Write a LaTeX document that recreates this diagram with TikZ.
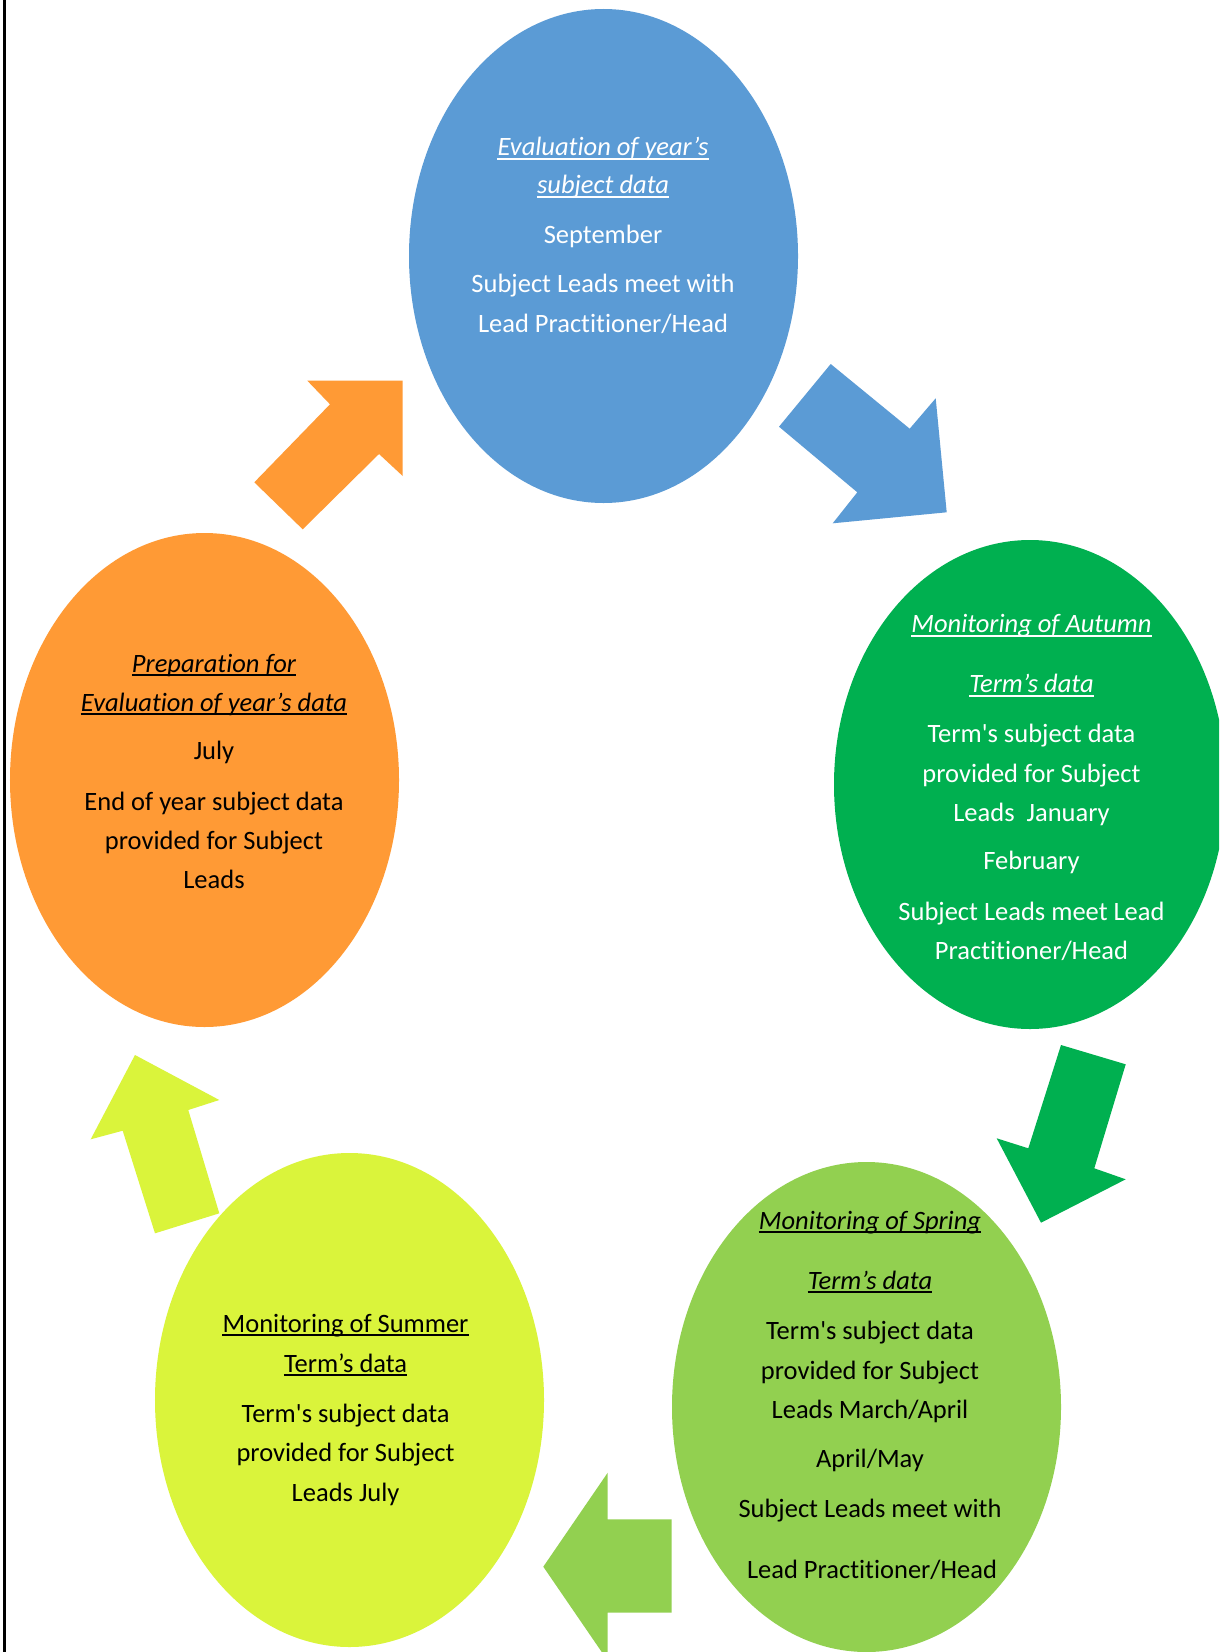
\documentclass[tikz,border=0pt]{standalone}
\usepackage{fontspec}
\setmainfont{Carlito}[Ligatures={TeX,NoCommon}]
\newfontfamily\rawcarlito{Carlito}[Ligatures=NoCommon]
\usetikzlibrary{shapes.geometric}
\definecolor{evalblue}{HTML}{5B9BD5}
\definecolor{autumngreen}{HTML}{00B050}
\definecolor{springgreen}{HTML}{92D050}
\definecolor{summeryellow}{HTML}{DAF43B}
\definecolor{preporange}{HTML}{FF9A35}
\newcommand\straightq{{\rawcarlito'}}
\begin{document}
\begin{tikzpicture}[x=1bp,y=-1bp,
  stage/.style={ellipse, inner sep=0pt, minimum width=389bp, minimum height=494bp},
  txt/.style={inner sep=0pt, anchor=base, font=\fontsize{26.6}{32}\selectfont},
  ttl/.style={txt, font=\fontsize{26.6}{32}\selectfont\itshape},
  ttlup/.style={txt},
  ul/.style={line width=1.9bp},
]
\useasboundingbox (0,0) rectangle (1219,1652);
\clip (0,0) rectangle (1219,1652);
\fill[white] (0,0) rectangle (1219,1652);

% page edge rule
\fill[black] (3,0) rectangle (5.6,1652);

% stage ellipses
\node[stage, fill=evalblue] (eval) at (603.5,256) {};
\node[stage, fill=autumngreen, minimum width=392bp, minimum height=489bp] (autumn) at (1030,784.5) {};
\node[stage, fill=springgreen, minimum height=490bp] (spring) at (866.5,1407) {};
\node[stage, fill=summeryellow] (summer) at (349.5,1400) {};
\node[stage, fill=preporange] (prep) at (204.5,780) {};

% block arrows between the stages
\fill[evalblue] (830.7,364) -- (909.7,428.7) -- (935.7,398.3) -- (946.7,512.3)
  -- (832.7,523.3) -- (857.3,492.3) -- (779,426.7) -- cycle;
\fill[autumngreen] (1061,1045) -- (1125.7,1064.3) -- (1094.3,1168.3) -- (1125.7,1179.3)
  -- (1041,1222.7) -- (996.7,1138.3) -- (1028.3,1148.3) -- cycle;
\fill[springgreen] (671.7,1519.3) -- (607.7,1519.3) -- (607.7,1472.7) -- (543.3,1566.7)
  -- (607.7,1660.7) -- (607.7,1612.7) -- (671.7,1612.7) -- cycle;
\fill[summeryellow] (155,1233.3) -- (219.3,1213.3) -- (188.3,1110) -- (219.3,1100)
  -- (135,1055) -- (90.7,1139.3) -- (122.7,1130.7) -- cycle;
\fill[preporange] (302.7,529.3) -- (379,454) -- (402.7,476) -- (402.7,380.7)
  -- (307.3,380.7) -- (330,404.3) -- (254.3,482.3) -- cycle;

% Evaluation of year's data (September)
\begin{scope}[text=white]
\node[ttl] (eval-t1) at (603,155.5) {Evaluation of year’s};
\node[ttl] (eval-t2) at (603,193.5) {subject data};
\node[txt] (eval-m) at (603,243) {September};
\node[txt] (eval-p1) at (603,292.5) {Subject Leads meet with};
\node[txt] (eval-p2) at (603,332.5) {Lead Practitioner/Head};
\end{scope}
\foreach \n in {eval-t1,eval-t2}
  \draw[ul, white] ([yshift=-3.2bp]\n.base west) -- ([yshift=-3.2bp]\n.base east);

% Autumn term
\begin{scope}[text=white]
\node[ttl] (aut-t1) at (1031.5,632.8) {Monitoring of Autumn};
\node[ttl] (aut-t2) at (1031.5,692.8) {Term’s data};
\node[txt] (aut-p1) at (1031.5,742.3) {Term\straightq s subject data};
\node[txt] (aut-p2) at (1031.5,782.4) {provided for Subject};
\node[txt] (aut-p3) at (1031.5,821.4) {Leads\ \ January};
\node[txt] (aut-m) at (1031.5,869.8) {February};
\node[txt] (aut-q1) at (1031.5,920.4) {Subject Leads meet Lead};
\node[txt] (aut-q2) at (1031.5,959.4) {Practitioner/Head};
\end{scope}
\foreach \n in {aut-t1,aut-t2}
  \draw[ul, white] ([yshift=-3.2bp]\n.base west) -- ([yshift=-3.2bp]\n.base east);

% Spring term
\node[ttl] (spr-t1) at (870,1229) {Monitoring of Spring};
\node[ttl] (spr-t2) at (870,1289) {Term’s data};
\node[txt] (spr-p1) at (870,1339) {Term\straightq s subject data};
\node[txt] (spr-p2) at (870,1379) {provided for Subject};
\node[txt] (spr-p3) at (870,1418) {Leads March/April};
\node[txt] (spr-m) at (870,1467) {April/May};
\node[txt] (spr-q1) at (870,1517) {Subject Leads meet with};
\node[txt] (spr-q2) at (872,1578) {Lead Practitioner/Head};
\foreach \n in {spr-t1,spr-t2}
  \draw[ul, black] ([yshift=-3.2bp]\n.base west) -- ([yshift=-3.2bp]\n.base east);

% Summer term
\node[ttlup] (sum-t1) at (345.6,1332) {Monitoring of Summer};
\node[ttlup] (sum-t2) at (345.6,1372) {Term’s data};
\node[txt] (sum-p1) at (345.6,1422) {Term\straightq s subject data};
\node[txt] (sum-p2) at (345.6,1461) {provided for Subject};
\node[txt] (sum-p3) at (345.6,1501) {Leads July};
\foreach \n in {sum-t1,sum-t2}
  \draw[ul, black] ([yshift=-3.2bp]\n.base west) -- ([yshift=-3.2bp]\n.base east);

% Preparation (July)
\node[ttl] (prep-t1) at (214,672) {Preparation for};
\node[ttl] (prep-t2) at (214,711) {Evaluation of year’s data};
\node[txt] (prep-m) at (214,759) {July};
\node[txt] (prep-p1) at (214,810) {End of year subject data};
\node[txt] (prep-p2) at (214,849) {provided for Subject};
\node[txt] (prep-p3) at (214,888) {Leads};
\foreach \n in {prep-t1,prep-t2}
  \draw[ul, black] ([yshift=-3.2bp]\n.base west) -- ([yshift=-3.2bp]\n.base east);
\end{tikzpicture}
\end{document}
